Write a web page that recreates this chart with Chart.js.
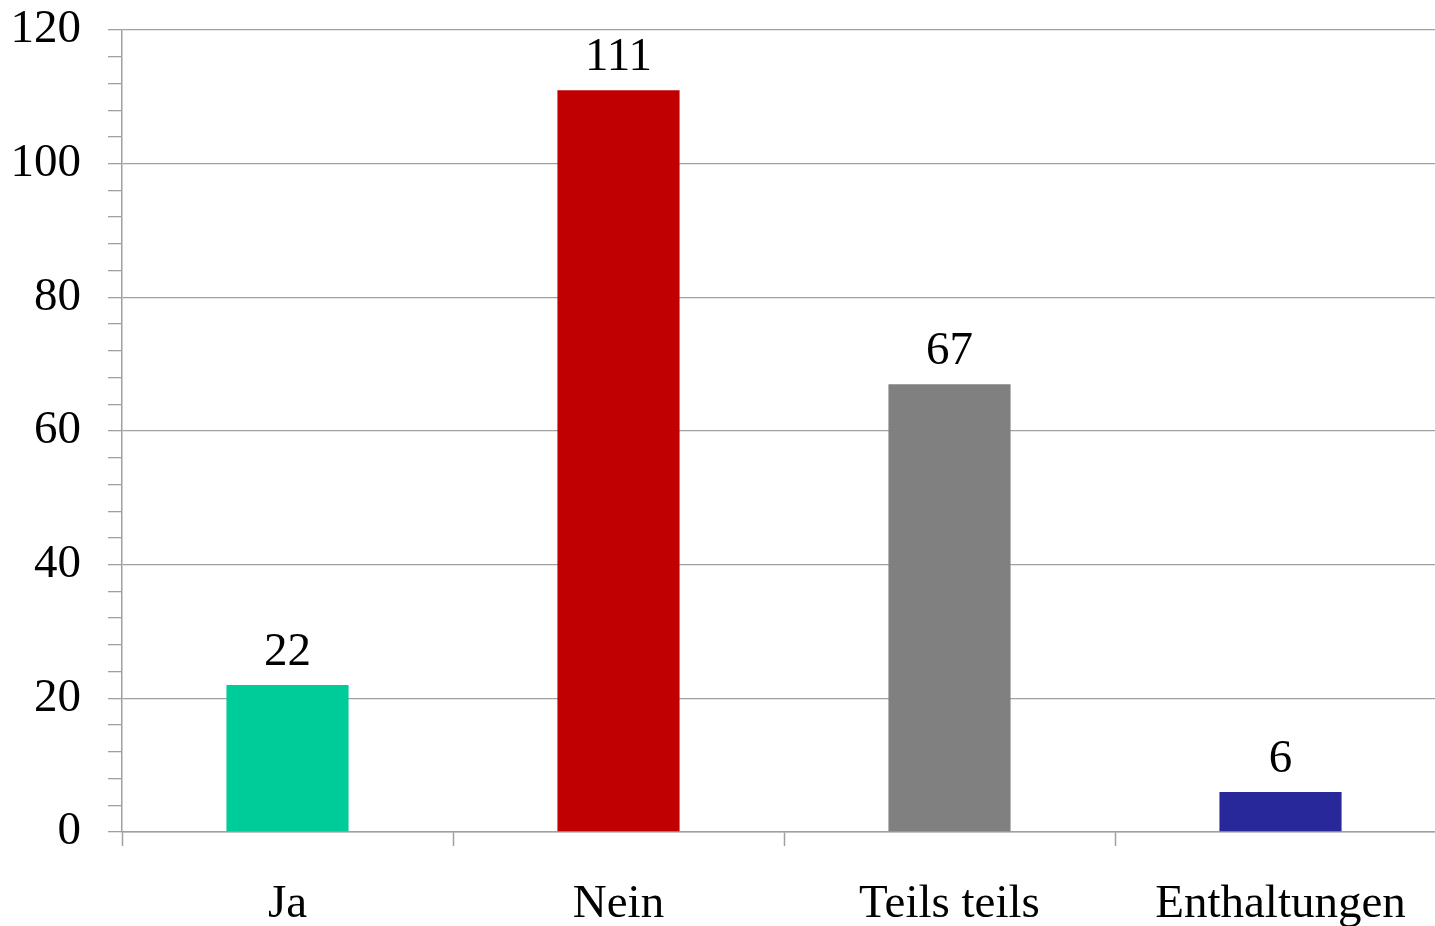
<!DOCTYPE html>
<html>
<head>
<meta charset="utf-8">
<script src="https://cdn.jsdelivr.net/npm/chart.js@4/dist/chart.umd.min.js"></script>
<style>
html,body{margin:0;padding:0;background:#fff;overflow:hidden;}
#wrap{position:absolute;left:0;top:0;width:1446px;height:926px;}
</style>
</head>
<body>
<div id="wrap"><canvas id="c" width="1446" height="926"></canvas></div>
<script>
const categories = ['Ja', 'Nein', 'Teils teils', 'Enthaltungen'];
const votes = [22, 111, 67, 6];
const barColors = ['#00CC99', '#C00000', '#808080', '#28289A'];
const yMin = 0, yMax = 120, majorStep = 20, minorStep = 4;

const FONT = "'Liberation Serif', 'Times New Roman', serif";
const GRID = '#a0a0a0';

const valueLabels = {
  id: 'valueLabels',
  afterDatasetsDraw(chart) {
    const ctx = chart.ctx;
    const meta = chart.getDatasetMeta(0);
    ctx.save();
    ctx.font = '47px ' + FONT;
    ctx.fillStyle = '#000';
    ctx.textAlign = 'center';
    ctx.textBaseline = 'alphabetic';
    meta.data.forEach((bar, i) => {
      ctx.fillText(String(votes[i]), bar.x, bar.y - 20);
    });
    ctx.restore();
  }
};

new Chart(document.getElementById('c'), {
  type: 'bar',
  data: {
    labels: categories,
    datasets: [{
      data: votes,
      backgroundColor: barColors,
      borderWidth: 0,
      barPercentage: 0.369,
      categoryPercentage: 1
    }]
  },
  options: {
    responsive: false,
    animation: false,
    events: [],
    layout: { padding: { top: 30, right: 0, left: 0, bottom: 0 } },
    plugins: { legend: { display: false }, tooltip: { enabled: false } },
    scales: {
      x: {
        grid: {
          offset: true,
          drawOnChartArea: false,
          drawTicks: true,
          tickLength: 14,
          tickColor: GRID,
          tickWidth: 1.5
        },
        border: { color: GRID, width: 1.5 },
        ticks: {
          color: '#000',
          font: { family: FONT, size: 47 },
          padding: 30,
          maxRotation: 0,
          autoSkip: false
        },
        afterFit(scale) { scale.height = 94; }
      },
      y: {
        min: yMin,
        max: yMax,
        grid: {
          color: (c) => (c.tick && c.tick.value % majorStep === 0) ? GRID : 'rgba(0,0,0,0)',
          lineWidth: 1.3,
          tickColor: GRID,
          tickLength: 14,
          tickWidth: 1.3
        },
        border: { color: GRID, width: 1.5 },
        ticks: {
          stepSize: minorStep,
          autoSkip: false,
          color: '#000',
          font: { family: FONT, size: 47, lineHeight: 0.1 },
          padding: 27,
          callback: (v) => (v % majorStep === 0) ? String(v) : ''
        },
        afterFit(scale) { scale.width = 122; }
      }
    }
  },
  plugins: [valueLabels]
});
</script>
</body>
</html>
